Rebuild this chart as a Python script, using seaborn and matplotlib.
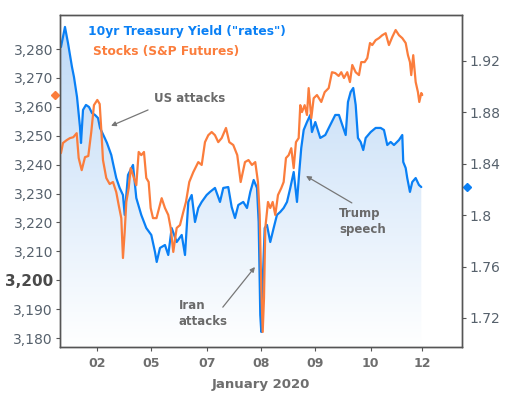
import numpy as np
import pandas as pd
import matplotlib
matplotlib.use("Agg")
import matplotlib.pyplot as plt
import seaborn as sns
from matplotlib.colors import LinearSegmentedColormap

# x = trading-session position, "02" = 0, one unit per day label
rate_x = [-0.667, -0.593, -0.537, -0.463, -0.426, -0.370, -0.315, -0.296, -0.259, -0.204,
          -0.148, -0.093, -0.037, 0.019, 0.056, 0.143, 0.185, 0.265, 0.296, 0.357,
          0.420, 0.481, 0.513, 0.574, 0.667, 0.728, 0.820, 0.913, 1.006, 1.074,
          1.106, 1.167, 1.259, 1.320, 1.383, 1.476, 1.569, 1.630, 1.691, 1.754,
          1.815, 1.876, 1.939, 2.031, 2.093, 2.185, 2.278, 2.339, 2.431, 2.494,
          2.556, 2.617, 2.709, 2.778, 2.839, 2.902, 2.963, 2.994, 3.024, 3.043,
          3.069, 3.106, 3.148, 3.209, 3.272, 3.333, 3.394, 3.457, 3.519, 3.580,
          3.643, 3.704, 3.746, 3.783, 3.828, 3.889, 3.950, 3.981, 4.043, 4.135,
          4.228, 4.320, 4.413, 4.481, 4.543, 4.606, 4.648, 4.698, 4.746, 4.791,
          4.833, 4.883, 4.931, 4.976, 5.069, 5.161, 5.254, 5.315, 5.376, 5.439,
          5.500, 5.593, 5.654, 5.672, 5.717, 5.746, 5.796, 5.839, 5.902, 5.963,
          6.006]
rate_y = [1.9309, 1.9465, 1.9340, 1.9153, 1.9075, 1.8920, 1.8686, 1.8562, 1.8819, 1.8858,
          1.8842, 1.8795, 1.8780, 1.8756, 1.8679, 1.8601, 1.8562, 1.8468, 1.8406, 1.8289,
          1.8212, 1.8157, 1.8002, 1.8313, 1.8391, 1.8134, 1.8002, 1.7900, 1.7846, 1.7714,
          1.7636, 1.7745, 1.7768, 1.7690, 1.7900, 1.7791, 1.7846, 1.7690, 1.8103, 1.8157,
          1.7947, 1.8056, 1.8103, 1.8157, 1.8181, 1.8212, 1.8103, 1.8212, 1.8219, 1.8064,
          1.7978, 1.8079, 1.8103, 1.8056, 1.8181, 1.8274, 1.8212, 1.7947, 1.7223, 1.7091,
          1.7480, 1.7900, 1.7924, 1.7791, 1.7900, 1.8002, 1.8025, 1.8056, 1.8103, 1.8212,
          1.8336, 1.8103, 1.8336, 1.8523, 1.8663, 1.8725, 1.8780, 1.8647, 1.8725, 1.8601,
          1.8624, 1.8702, 1.8780, 1.8780, 1.8702, 1.8624, 1.8881, 1.8959, 1.8990, 1.8858,
          1.8601, 1.8570, 1.8507, 1.8601, 1.8647, 1.8679, 1.8679, 1.8663, 1.8546, 1.8570,
          1.8546, 1.8585, 1.8624, 1.8414, 1.8367, 1.8289, 1.8181, 1.8258, 1.8289, 1.8235,
          1.8219]

stock_x = [-0.667, -0.630, -0.561, -0.500, -0.439, -0.376, -0.339, -0.283, -0.222, -0.161,
           -0.106, -0.056, 0.006, 0.050, 0.080, 0.111, 0.172, 0.235, 0.296, 0.357,
           0.402, 0.450, 0.481, 0.513, 0.543, 0.587, 0.624, 0.667, 0.728, 0.772,
           0.820, 0.870, 0.913, 0.957, 0.994, 1.037, 1.102, 1.198, 1.259, 1.320,
           1.365, 1.413, 1.476, 1.537, 1.598, 1.648, 1.709, 1.783, 1.876, 1.939,
           2.000, 2.061, 2.124, 2.185, 2.246, 2.309, 2.389, 2.450, 2.524, 2.598,
           2.661, 2.741, 2.806, 2.870, 2.931, 2.981, 3.013, 3.043, 3.069, 3.093,
           3.117, 3.167, 3.209, 3.254, 3.302, 3.352, 3.413, 3.457, 3.500, 3.550,
           3.598, 3.643, 3.685, 3.735, 3.765, 3.796, 3.846, 3.889, 3.920, 3.969,
           4.013, 4.074, 4.154, 4.217, 4.291, 4.352, 4.413, 4.476, 4.524, 4.574,
           4.635, 4.685, 4.728, 4.791, 4.852, 4.894, 4.957, 5.006, 5.056, 5.098,
           5.161, 5.222, 5.283, 5.346, 5.407, 5.469, 5.531, 5.593, 5.654, 5.717,
           5.759, 5.796, 5.820, 5.857, 5.902, 5.944, 5.969, 6.006, 6.024]
stock_y = [3244.0, 3247.5, 3248.5, 3249.2, 3249.5, 3250.9, 3242.3, 3238.1, 3242.6, 3243.0,
           3251.3, 3260.6, 3262.4, 3261.0, 3252.0, 3241.6, 3235.4, 3233.3, 3234.0, 3230.5,
           3226.0, 3221.5, 3207.7, 3216.7, 3227.1, 3231.9, 3238.8, 3236.4, 3232.9, 3244.4,
           3243.3, 3244.4, 3235.4, 3234.0, 3225.0, 3221.5, 3221.5, 3228.4, 3225.0, 3222.6,
           3218.1, 3209.8, 3218.1, 3219.1, 3223.6, 3227.1, 3234.0, 3237.4, 3240.9, 3239.9,
           3247.8, 3250.2, 3251.3, 3250.2, 3247.8, 3249.2, 3252.7, 3247.8, 3246.8, 3243.3,
           3234.0, 3240.9, 3241.6, 3239.9, 3240.9, 3234.0, 3222.6, 3197.3, 3182.1, 3193.8,
           3218.1, 3227.1, 3225.0, 3227.1, 3222.6, 3229.5, 3231.9, 3234.0, 3242.3, 3243.3,
           3245.7, 3238.8, 3247.8, 3249.2, 3260.6, 3258.2, 3260.6, 3257.2, 3266.5, 3256.1,
           3263.0, 3264.1, 3261.7, 3265.1, 3266.5, 3272.0, 3271.7, 3270.7, 3272.0, 3270.0,
           3272.0, 3268.6, 3274.5, 3272.0, 3271.0, 3275.5, 3275.5, 3276.9, 3282.1, 3281.4,
           3283.1, 3283.8, 3284.8, 3285.5, 3281.4, 3284.2, 3286.6, 3284.8, 3283.8, 3282.1,
           3277.9, 3275.5, 3271.0, 3277.9, 3268.6, 3265.1, 3261.7, 3264.8, 3264.1]

tick_pos = [0, 1.0, 2.04, 3.04, 4.04, 5.07, 6.02]
tick_labels = ["02", "05", "07", "08", "09", "10", "12"]
left_ticks = [3180, 3190, 3200, 3210, 3220, 3230, 3240, 3250, 3260, 3270, 3280]
right_ticks = [1.72, 1.76, 1.8, 1.84, 1.88, 1.92]

blue = "#0a80f5"
orange = "#fb7d3c"
grey_txt = "#6a6a6a"
spine_c = "#555555"
lab_c = "#56616c"

sns.set_style("white")
plt.rcParams['font.family'] = ['DejaVu Sans']

rates = pd.DataFrame({"x": rate_x, "y": rate_y})
stocks = pd.DataFrame({"x": stock_x, "y": stock_y})

XMIN, XMAX = -0.685, 6.76
L_MIN, L_MAX = 3176.9, 3291.8
R_MIN, R_MAX = 1.6974, 1.9558

fig = plt.figure(figsize=(5.07, 3.95), dpi=100)
ax = fig.add_axes([60 / 507, 48 / 395, 402 / 507, 332 / 395])
ax2 = ax.twinx()

# gradient fill under the yield line
poly = ax2.fill_between(rates["x"], rates["y"], R_MIN, color="none", lw=0)
grad = np.linspace(1, 0, 256).reshape(-1, 1)
cmap = LinearSegmentedColormap.from_list("fill", ["#ffffff", "#bcd8f6"])
img = ax2.imshow(grad, cmap=cmap, aspect="auto", origin="upper",
                 extent=[XMIN, XMAX, R_MIN, R_MAX], zorder=0)
img.set_clip_path(poly.get_paths()[0], transform=ax2.transData)

sns.lineplot(data=rates, x="x", y="y", ax=ax2, color=blue, lw=1.6,
             estimator=None, sort=False)
sns.lineplot(data=stocks, x="x", y="y", ax=ax, color=orange, lw=1.6,
             estimator=None, sort=False)

ax.set_zorder(ax2.get_zorder() + 1)
ax.patch.set_visible(False)

ax.set_xlim(XMIN, XMAX)
ax.set_ylim(L_MIN, L_MAX)
ax2.set_ylim(R_MIN, R_MAX)
ax.set_ylabel("")
ax2.set_ylabel("")

# end-value markers outside the axes
ax.plot([-0.0125], [stock_y[-1]], marker="D", ms=4.5, color=orange,
        transform=ax.get_yaxis_transform(), clip_on=False)
ax2.plot([1.0124], [rate_y[-1]], marker="D", ms=4.5, color=blue,
         transform=ax2.get_yaxis_transform(), clip_on=False)

for a in (ax, ax2):
    for s in a.spines.values():
        s.set_color(spine_c)
        s.set_linewidth(1.0)

ax.set_yticks(left_ticks)
ax.set_yticklabels([f"{v:,}" for v in left_ticks])
ax.tick_params(axis="y", left=True, direction="out", length=3, color=spine_c,
               labelcolor=lab_c, labelsize=10, pad=2)
for lbl in ax.get_yticklabels():
    if lbl.get_text() == "3,200":
        lbl.set_fontweight("bold")
        lbl.set_fontsize(11)
        lbl.set_color("#4a4a4a")

ax2.set_yticks(right_ticks)
ax2.set_yticklabels([f"{v:g}" for v in right_ticks])
ax2.tick_params(axis="y", right=True, direction="out", length=3, color=spine_c,
                labelcolor=lab_c, labelsize=10, pad=2)

ax.set_xticks(tick_pos)
ax.set_xticklabels(tick_labels)
ax.tick_params(axis="x", bottom=True, direction="out", length=3, color=spine_c,
               labelcolor="#6e6e6e", labelsize=9, pad=4)
for lbl in ax.get_xticklabels():
    lbl.set_fontweight("bold")
ax.set_xlabel("January 2020", fontsize=9.5, fontweight="bold", color="#6e6e6e",
              labelpad=6)

# series labels
ax.text(0.0697, 0.949, '10yr Treasury Yield ("rates")', transform=ax.transAxes,
        color=blue, fontsize=8.8, fontweight="bold", va="center")
ax.text(0.082, 0.8886, "Stocks (S&P Futures)", transform=ax.transAxes,
        color=orange, fontsize=8.8, fontweight="bold", va="center")

# event notes
arrow = dict(arrowstyle="-|>", color="#777777", lw=0.9, mutation_scale=7,
             shrinkA=0, shrinkB=0)
notes = [
    ("US attacks", (0.234, 0.747), (0.219, 0.714), (0.127, 0.666)),
    ("Iran\nattacks", (0.296, 0.101), (0.405, 0.120), (0.485, 0.241)),
    ("Trump\nspeech", (0.694, 0.3795), (0.726, 0.434), (0.612, 0.515)),
]
for txt, pos, tail, head in notes:
    ax.text(pos[0], pos[1], txt, transform=ax.transAxes, color=grey_txt,
            fontsize=8.5, fontweight="bold", va="center", ha="left", linespacing=1.3)
    ax.annotate("", xy=head, xytext=tail, xycoords="axes fraction",
                textcoords="axes fraction", arrowprops=arrow)

fig.savefig("out.png", dpi=100, facecolor="white")
